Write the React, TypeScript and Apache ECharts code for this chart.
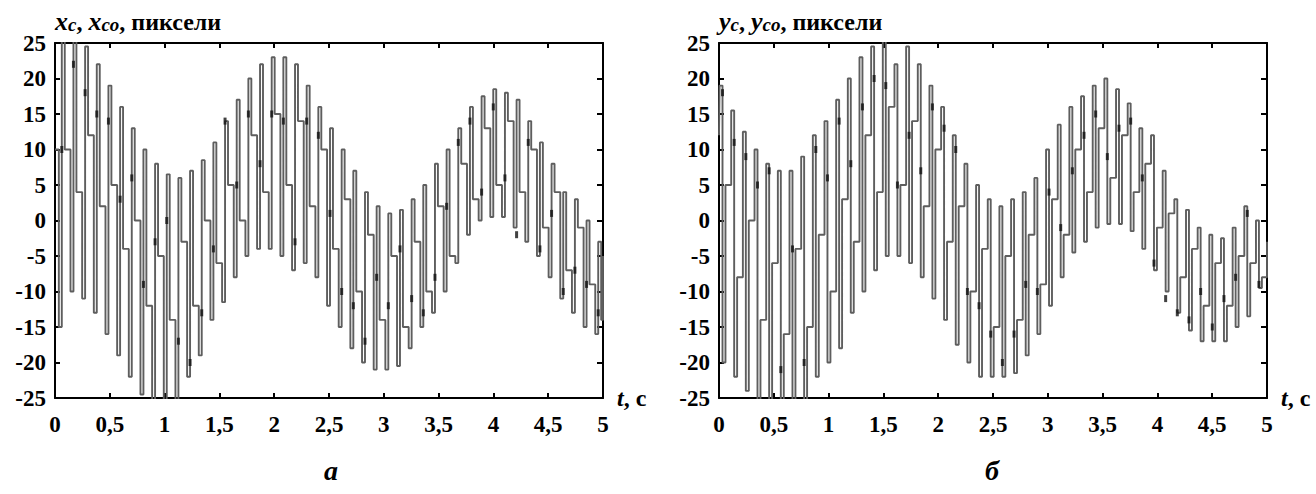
import React, { useEffect, useRef } from "react";
import * as echarts from "echarts";

// ---- data ----
const timeTickLabels = ["0", "0,5", "1", "1,5", "2", "2,5", "3", "3,5", "4", "4,5", "5"];
const yTickStep = 5;

const cyclePeriod = 0.1064; // s, one oscillation of the fast component
const holdTime = 0.027; // s, duration of extreme samples

// left panel: x_c (grey step line), x_co (black marks)
const xcStart = 10;
const xcEnd = -5;
const xcLow = [-15, -10, -11, -13, -16, -19, -22, -24.5, -26, -27, -25.5, -22, -19, -14, -11.5, -8, -5, -4, -4, -5, -7, -6, -8, -12, -15, -18, -20, -21, -21, -20.5, -18, -15, -13, -10, -6, -2, 0, 0.5, 0.5, -1, -3, -5, -8, -11, -13, -15, -16];
const xcHigh = [28, 28, 24.5, 22, 19, 16, 13, 10, 8, 6.5, 6, 7, 8.5, 11, 14, 17, 20, 22, 23, 23, 22, 19, 16, 13, 10, 7, 4, 2, 1, 1.5, 3, 5, 8, 10, 13, 16, 17.5, 18.5, 18, 17, 14, 11, 8, 4, 3, 0, -3];
const xcMid = [10, 4, 12, 2, 5, -4, 0, -12, -5, -14, -3, -12, 0, -6, 5, 0, 12, 4, 15, 5, 14, 2, 10, -4, 3, -10, -2, -14, -5, -15, -3, -10, 2, -5, 8, 3, 13, 5, 14, 4, 10, -1, 4, -7, -1, -9, -14];
const xcoVals = [10, 22, 18, 15, 14, 3, 6, -9, -3, 0, -17, -20, -13, -4, 14, 5, 15, 8, 15, 14, -3, 14, 12, 1, -10, -12, -17, -8, -12, -4, -11, -13, -8, 2, 11, 14, 4, 16, 6, -2, 11, -4, 1, -10, -7, -9, -13];

// right panel: y_c (grey step line), y_co (black marks)
const ycStart = 12;
const ycEnd = -3;
const ycHigh = [19, 15.5, 12.5, 10, 8, 7, 7, 9, 12, 14, 17, 20, 23, 24.5, 27, 22, 24.5, 22, 19, 16, 12, 8, 5, 3, 2, 3, 4, 6, 10, 13.5, 16, 17.5, 19, 20, 18.5, 16.5, 13, 12, 7, 3, 1.5, -1, -2, -2.5, -1, 2, 0];
const ycLow = [-20, -22, -24, -26, -27, -27, -27, -26, -22, -20, -18, -13, -10, -7, -5, -5, -6, -8, -11, -14, -17.5, -20, -22, -22, -22, -21.5, -19, -16, -12, -8, -4.5, -3, -1, -0.5, -0.5, -1.5, -4, -7, -10, -13, -15.5, -17, -17, -17, -15, -13.5, -9.5];
const ycMid = [5, -8, 0, -14, -6, -16, -4, -15, -2, -10, 3, -3, 12, 4, 16, 5, 14, 2, 10, -3, 2, -10, -4, -15, -5, -14, -2, -9, 3, -2, 10, 4, 13, 6, 12, 4, 8, -1, 1, -8, -4, -12, -6, -12, -5, -6, -8];
const ycoVals = [18, 11, 9, 5, 7, -21, -4, -20, 10, 6, 14, 8, 16, 20, 19, 5, 12, 7, 16, 13, 10, -10, -12, -16, -20, -16, -9, -10, 4, -1, 7, 12, 15, 9, 13, 14, 6, -6, -11, -13, -14, -10, -15, -11, -8, 1, -9];

const FONT = "Liberation Serif";

type Panel = {
  first: number[];
  second: number[];
  mid: number[];
  co: number[];
  start: number;
  end: number;
  t0: number;
  left: number;
  sym: string;
  caption: string;
  captionX: number;
};

const panels: Panel[] = [
  { first: xcLow, second: xcHigh, mid: xcMid, co: xcoVals, start: xcStart, end: xcEnd, t0: 0.035, left: 55, sym: "x", caption: "а", captionX: 331 },
  { first: ycHigh, second: ycLow, mid: ycMid, co: ycoVals, start: ycStart, end: ycEnd, t0: 0.005, left: 719, sym: "y", caption: "б", captionX: 992 },
];

function buildLine(p: Panel): number[][] {
  const pts: number[][] = [[0, p.start]];
  for (let k = 0; k < p.first.length; k++) {
    const t = p.t0 + k * cyclePeriod;
    pts.push([t, p.first[k]], [t + holdTime, p.second[k]], [t + 2 * holdTime, p.mid[k]]);
  }
  pts.push([5, p.end]);
  return pts;
}

function buildMarks(p: Panel): number[][] {
  return p.co.map((v, k) => [p.t0 + k * cyclePeriod + holdTime, v]);
}

export default function App() {
  const ref = useRef<HTMLDivElement>(null);
  useEffect(() => {
    if (!ref.current) return;
    const chart = echarts.init(ref.current, null, { renderer: "svg" });
    const grids: any[] = [];
    const xAxes: any[] = [];
    const yAxes: any[] = [];
    const series: any[] = [];
    const graphics: any[] = [];
    const axisLine = { show: true, onZero: false, lineStyle: { color: "#000", width: 2 } };
    const tick = { show: true, inside: true, length: 5, lineStyle: { color: "#000", width: 2 } };
    const labelFont = { fontFamily: FONT, fontWeight: "bold", fontSize: 23, color: "#000" };

    panels.forEach((p, i) => {
      grids.push({ left: p.left, top: 43, width: 548, height: 355 });
      xAxes.push({
        gridIndex: i, type: "value", position: "bottom", min: 0, max: 5, interval: 0.5,
        axisLine, axisTick: tick, splitLine: { show: false },
        axisLabel: { ...labelFont, margin: 15, formatter: (v: number) => timeTickLabels[Math.round(v / 0.5)] ?? "" },
        name: "{i|t}{n|, с}", nameLocation: "end", nameGap: 14,
        nameTextStyle: {
          rich: {
            i: { fontFamily: FONT, fontWeight: "bold", fontStyle: "italic", fontSize: 24, color: "#000" },
            n: { fontFamily: FONT, fontWeight: "bold", fontSize: 24, color: "#000" },
          },
        },
      });
      xAxes.push({
        gridIndex: i, type: "value", position: "top", min: 0, max: 5, interval: 0.5,
        axisLine, axisTick: tick, axisLabel: { show: false }, splitLine: { show: false },
      });
      yAxes.push({
        gridIndex: i, type: "value", position: "left", min: -25, max: 25, interval: yTickStep,
        axisLine, axisTick: tick, splitLine: { show: false },
        axisLabel: { ...labelFont, margin: 9 },
      });
      yAxes.push({
        gridIndex: i, type: "value", position: "right", min: -25, max: 25, interval: yTickStep,
        axisLine, axisTick: { ...tick, length: 6 }, axisLabel: { show: false }, splitLine: { show: false },
      });
      series.push({
        type: "line", xAxisIndex: 2 * i, yAxisIndex: 2 * i, data: buildLine(p), step: "end",
        symbol: "none", showSymbol: false, clip: true, silent: true, z: 2,
        lineStyle: { color: "#5e5e5e", width: 1.9 },
      });
      series.push({
        type: "scatter", xAxisIndex: 2 * i, yAxisIndex: 2 * i, data: buildMarks(p),
        symbol: "rect", symbolSize: [3, 7], silent: true, z: 3,
        itemStyle: { color: "#111" },
      });
      graphics.push({
        type: "text", x: p.left, y: 21,
        style: {
          text: `{v|${p.sym}}{s|c}{n|, }{v|${p.sym}}{s|co}{n|, пиксели}`,
          verticalAlign: "middle",
          rich: {
            v: { fontFamily: FONT, fontWeight: "bold", fontStyle: "italic", fontSize: 26, fill: "#000", verticalAlign: "bottom" },
            s: { fontFamily: FONT, fontWeight: "bold", fontStyle: "italic", fontSize: 19, fill: "#000", verticalAlign: "bottom" },
            n: { fontFamily: FONT, fontWeight: "bold", fontSize: 24, fill: "#000", verticalAlign: "bottom" },
          },
        },
      });
      graphics.push({
        type: "text", x: p.captionX, y: 470,
        style: { text: p.caption, align: "center", verticalAlign: "middle", fontFamily: FONT, fontStyle: "italic", fontWeight: "bold", fontSize: 28, fill: "#000" },
      });
    });

    chart.setOption({
      animation: false,
      backgroundColor: "#fff",
      grid: grids,
      xAxis: xAxes,
      yAxis: yAxes,
      series,
      graphic: graphics,
    });
    return () => chart.dispose();
  }, []);
  return (
    <div
      ref={ref}
      style={{ position: "fixed", left: 0, top: 0, width: 1316, height: 494, background: "#fff" }}
    />
  );
}
